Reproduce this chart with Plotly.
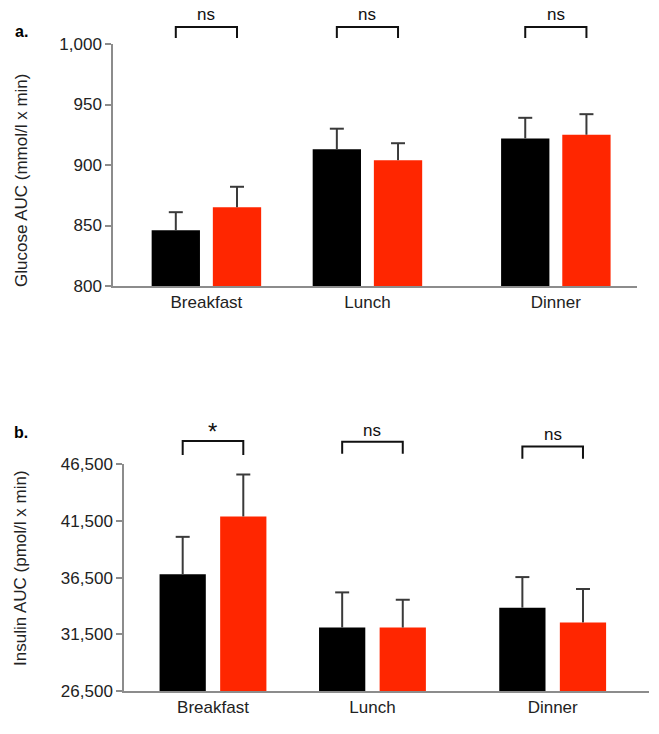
import plotly.graph_objects as go

# ---- data ----
meals = ["Breakfast", "Lunch", "Dinner"]
glucose_black = [846, 913, 922]
glucose_black_err = [15, 17, 17]
glucose_red = [865, 904, 925]
glucose_red_err = [17, 14, 17]
glucose_sig = ["ns", "ns", "ns"]

insulin_black = [36800, 32100, 33850]
insulin_black_err = [3300, 3100, 2700]
insulin_red = [41900, 32100, 32550]
insulin_red_err = [3700, 2450, 2950]
insulin_sig = ["*", "ns", "ns"]

glucose_ticks = [800, 850, 900, 950, 1000]
insulin_ticks = [26500, 31500, 36500, 41500, 46500]

# ---- layout constants ----
W, H = 659, 734

def fx(px):
    return px / W

def fy(py):
    return 1 - py / H

pos_top = [0, 1, 2.17]
pos_bot = [0, 1, 2.13]
off = 0.19
FONT = "Liberation Sans, Arial, sans-serif"
BLACK = "#000000"
RED = "#ff2600"
AX = "#8c8c8c"
ERR = "#3a3a3a"

fig = go.Figure()

def add_series(xpos, vals, errs, color, xa, ya, w):
    xs = list(xpos)
    fig.add_trace(go.Bar(
        x=xs, y=vals, width=w, marker_color=color,
        marker_line_width=0, xaxis=xa, yaxis=ya, showlegend=False, hoverinfo="skip"))
    tops = [v + e for v, e in zip(vals, errs)]
    fig.add_trace(go.Scatter(
        x=xs, y=tops, mode="markers", xaxis=xa, yaxis=ya, showlegend=False, hoverinfo="skip",
        marker=dict(symbol="line-ew", size=10, line=dict(color=ERR, width=2), color=ERR),
        error_y=dict(type="data", array=[0] * len(errs), arrayminus=errs, symmetric=False,
                     color=ERR, thickness=2, width=0)))

add_series([p - off for p in pos_top], glucose_black, glucose_black_err, BLACK, "x", "y", 0.30)
add_series([p + off for p in pos_top], glucose_red, glucose_red_err, RED, "x", "y", 0.30)
add_series([p - off for p in pos_bot], insulin_black, insulin_black_err, BLACK, "x2", "y2", 0.29)
add_series([p + off for p in pos_bot], insulin_red, insulin_red_err, RED, "x2", "y2", 0.29)

shapes = []
annotations = []

def brackets(xpos, sigs, xref, yref, tops, bots, texts):
    for p, s, t, bt, ty in zip(xpos, sigs, tops, bots, texts):
        x0 = p - off
        x1 = p + off
        shapes.append(dict(type="path", xref=xref, yref=yref,
                           path=f"M {x0},{bt} L {x0},{t} L {x1},{t} L {x1},{bt}",
                           line=dict(color="#111111", width=2)))
        if s == "*":
            fnt = dict(family=FONT, size=24, color="#111111")
        else:
            fnt = dict(family=FONT, size=17, color="#111111")
        annotations.append(dict(x=p, y=ty, xref=xref, yref=yref, text=s, showarrow=False,
                                font=fnt, xanchor="center", yanchor="middle"))

brackets(pos_top, glucose_sig, "x", "y domain", [1.070] * 3, [1.025] * 3, [1.12] * 3)
brackets(pos_bot, insulin_sig, "x2", "y2 domain", [1.103, 1.100, 1.078], [1.041, 1.046, 1.024],
         [1.145, 1.15, 1.132])

annotations += [
    dict(x=fx(21), y=fy(32), xref="paper", yref="paper", text="<b>a.</b>", showarrow=False,
         xanchor="center", yanchor="middle",
         font=dict(family=FONT, size=16, color="#000")),
    dict(x=fx(21), y=fy(432), xref="paper", yref="paper", text="<b>b.</b>", showarrow=False,
         xanchor="center", yanchor="middle",
         font=dict(family=FONT, size=16, color="#000")),
    dict(x=fx(21), y=fy(181), xref="paper", yref="paper", text="Glucose AUC (mmol/l x min)",
         textangle=-90, showarrow=False, xanchor="center", yanchor="middle",
         font=dict(family=FONT, size=17, color="#222")),
    dict(x=fx(20), y=fy(568), xref="paper", yref="paper", text="Insulin AUC (pmol/l x min)",
         textangle=-90, showarrow=False, xanchor="center", yanchor="middle",
         font=dict(family=FONT, size=17, color="#222")),
]

tickfont = dict(family=FONT, size=17, color="#222")

common_x = dict(showgrid=False, zeroline=False, showline=True, linecolor=AX, linewidth=1.5,
                ticks="", tickfont=tickfont, layer="below traces", automargin=False)
common_y = dict(showgrid=False, zeroline=False, showline=True, linecolor=AX, linewidth=1.5,
                ticks="outside", ticklen=6, tickcolor=AX, tickwidth=1.5, tickfont=tickfont,
                automargin=False)

fig.update_layout(
    width=W, height=H,
    margin=dict(l=0, r=0, t=0, b=0, pad=0, autoexpand=False),
    paper_bgcolor="white", plot_bgcolor="white",
    barmode="overlay", hovermode=False,
    shapes=shapes, annotations=annotations,
    xaxis=dict(domain=[fx(113), fx(637)], anchor="y", range=[-0.58, 2.674],
               tickvals=pos_top, ticktext=meals, **common_x),
    yaxis=dict(domain=[fy(286), fy(44)], anchor="x", range=[800, 1000],
               tickvals=glucose_ticks, ticktext=[f"{v:,}" for v in glucose_ticks], **common_y),
    xaxis2=dict(domain=[fx(124), fx(649)], anchor="y2", range=[-0.558, 2.734],
                tickvals=pos_bot, ticktext=meals, **common_x),
    yaxis2=dict(domain=[fy(691), fy(464.3)], anchor="x2", range=[26500, 46500],
                tickvals=insulin_ticks, ticktext=[f"{v:,}" for v in insulin_ticks], **common_y),
)

fig.write_html("out.html", config={"displayModeBar": False},
               post_script="document.body.style.margin='0';document.body.style.padding='0';")
